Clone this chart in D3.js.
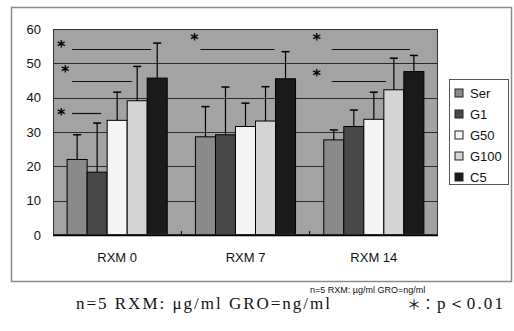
<!DOCTYPE html>
<html>
<head>
<meta charset="utf-8">
<script src="https://d3js.org/d3.v7.min.js"></script>
<style>
  body { margin: 0; background: #fff; }
  svg { display: block; }
</style>
</head>
<body>
<div id="chart"></div>
<script>
// data
var categories = ["RXM 0", "RXM 7", "RXM 14"];
var series = ["Ser", "G1", "G50", "G100", "C5"];
var means = [
  [22.0, 18.3, 33.4, 39.1, 45.7],
  [28.6, 29.2, 31.6, 33.2, 45.5],
  [27.7, 31.6, 33.7, 42.3, 47.6]
];
var errors = [
  [7.2, 14.3, 8.2, 10.0, 10.2],
  [8.8, 13.9, 6.8, 10.0, 7.9],
  [2.9, 4.8, 7.9, 9.2, 4.7]
];
var yTicks = [0, 10, 20, 30, 40, 50, 60];
// significance marks: star / line, x in bar units from the group start
var sigMarks = [
  {cat: 0, starX: -0.3,  starY: 55.4, x0: 0.25, x1: 4.2,  lineY: 54.2},
  {cat: 0, starX: -0.1,  starY: 48.1, x0: 0.25, x1: 3.25, lineY: 45.0},
  {cat: 0, starX: -0.3,  starY: 35.6, x0: 0.25, x1: 1.7,  lineY: 35.4},
  {cat: 1, starX: -0.05, starY: 57.4, x0: 0.25, x1: 3.95, lineY: 54.1},
  {cat: 2, starX: -0.35, starY: 57.4, x0: 0.4,  x1: 4.3,  lineY: 54.1},
  {cat: 2, starX: -0.35, starY: 46.9, x0: 0.4,  x1: 3.1,  lineY: 44.9}
];
var footSmall = "n=5 RXM: \u00b5g/ml GRO=ng/ml";
var footBig = "n=5 RXM: \u03bcg/ml GRO=ng/ml";
var footStar = "\uff0a\uff1a";
var footP = "p\uff1c0.01";

var colors = {Ser: "#8a8a8a", G1: "#484848", G50: "#f4f4f4", G100: "#d4d4d4", C5: "#1a1a1a"};

var W = 514, H = 331;
var plot = {left: 53, right: 438, top: 29, bottom: 235};

var svg = d3.select("#chart").append("svg")
  .attr("width", W).attr("height", H);

// outer frame
svg.append("rect")
  .attr("x", 11.5).attr("y", 7.5).attr("width", 500).attr("height", 274)
  .attr("fill", "#fff").attr("stroke", "#8a8a8a").attr("stroke-width", 1.5);

var x0 = d3.scaleBand().domain(categories)
  .range([plot.left, plot.right]).paddingInner(0.22).paddingOuter(0.11);
var x1 = d3.scaleBand().domain(series).range([0, x0.bandwidth()]);
var y = d3.scaleLinear().domain([0, 60]).range([plot.bottom, plot.top]);

var barUnit = x1.bandwidth();

// plot background
svg.append("rect")
  .attr("x", plot.left).attr("y", plot.top)
  .attr("width", plot.right - plot.left).attr("height", plot.bottom - plot.top)
  .attr("fill", "#a3a3a3");

// grid
svg.append("g").selectAll("line").data(yTicks.slice(1, -1)).join("line")
  .attr("x1", plot.left).attr("x2", plot.right)
  .attr("y1", function(d) { return Math.round(y(d)) + 0.5; })
  .attr("y2", function(d) { return Math.round(y(d)) + 0.5; })
  .attr("stroke", "#2a2a2a").attr("stroke-width", 1);

// significance lines and stars
var sig = svg.append("g");
sig.selectAll("line").data(sigMarks).join("line")
  .attr("x1", function(d) { return x0(categories[d.cat]) + d.x0 * barUnit; })
  .attr("x2", function(d) { return x0(categories[d.cat]) + d.x1 * barUnit; })
  .attr("y1", function(d) { return Math.round(y(d.lineY)) + 0.5; })
  .attr("y2", function(d) { return Math.round(y(d.lineY)) + 0.5; })
  .attr("stroke", "#111").attr("stroke-width", 1.2);
sig.selectAll("text").data(sigMarks).join("text")
  .attr("x", function(d) { return x0(categories[d.cat]) + d.starX * barUnit; })
  .attr("y", function(d) { return y(d.starY) + 7; })
  .attr("text-anchor", "middle")
  .attr("font-family", "DejaVu Sans, sans-serif")
  .attr("font-size", 16).attr("font-weight", "bold")
  .attr("fill", "#000")
  .text("*");

// bars
var groups = svg.append("g").selectAll("g").data(categories).join("g")
  .attr("transform", function(d) { return "translate(" + x0(d) + ",0)"; });

function rows(d, i) {
  return series.map(function(s, j) { return {s: s, v: means[i][j], e: errors[i][j]}; });
}

groups.selectAll("rect")
  .data(rows)
  .join("rect")
  .attr("x", function(d) { return x1(d.s); })
  .attr("y", function(d) { return y(d.v); })
  .attr("width", x1.bandwidth())
  .attr("height", function(d) { return y(0) - y(d.v); })
  .attr("fill", function(d) { return colors[d.s]; })
  .attr("stroke", "#000").attr("stroke-width", 1);

// error bars (upper only)
var err = groups.selectAll("g.err")
  .data(rows)
  .join("g").attr("class", "err");
err.append("line")
  .attr("x1", function(d) { return x1(d.s) + x1.bandwidth() / 2; })
  .attr("x2", function(d) { return x1(d.s) + x1.bandwidth() / 2; })
  .attr("y1", function(d) { return y(d.v); })
  .attr("y2", function(d) { return y(d.v + d.e); })
  .attr("stroke", "#000").attr("stroke-width", 1.2);
err.append("line")
  .attr("x1", function(d) { return x1(d.s) + x1.bandwidth() / 2 - 4; })
  .attr("x2", function(d) { return x1(d.s) + x1.bandwidth() / 2 + 4; })
  .attr("y1", function(d) { return y(d.v + d.e); })
  .attr("y2", function(d) { return y(d.v + d.e); })
  .attr("stroke", "#000").attr("stroke-width", 1.5);

// plot frame
svg.append("rect")
  .attr("x", plot.left + 0.5).attr("y", plot.top + 0.5)
  .attr("width", plot.right - plot.left - 1).attr("height", plot.bottom - plot.top - 1)
  .attr("fill", "none").attr("stroke", "#333").attr("stroke-width", 1);
svg.append("line")
  .attr("x1", plot.left).attr("x2", plot.right)
  .attr("y1", plot.bottom + 0.5).attr("y2", plot.bottom + 0.5)
  .attr("stroke", "#000").attr("stroke-width", 1.5);

// axes
var yAxis = svg.append("g")
  .attr("transform", "translate(" + (plot.left - 12) + ",0)")
  .call(d3.axisLeft(y).tickValues(yTicks).tickSize(0).tickPadding(0));
yAxis.select(".domain").remove();
yAxis.selectAll("text")
  .attr("font-family", "Liberation Sans, Arial, sans-serif")
  .attr("font-size", 13).attr("fill", "#111");

var xAxis = svg.append("g")
  .attr("transform", "translate(0," + plot.bottom + ")")
  .call(d3.axisBottom(x0).tickSize(0).tickPadding(18));
xAxis.select(".domain").remove();
xAxis.selectAll("text")
  .attr("font-family", "Liberation Sans, Arial, sans-serif")
  .attr("font-size", 13).attr("fill", "#111");

// small tick marks between groups
svg.append("g").selectAll("line").data(categories.slice(1)).join("line")
  .attr("x1", function(d) { return x0(d) - x0.step() * x0.paddingInner() / 2; })
  .attr("x2", function(d) { return x0(d) - x0.step() * x0.paddingInner() / 2; })
  .attr("y1", plot.bottom).attr("y2", plot.bottom - 4)
  .attr("stroke", "#000");

// legend
var leg = svg.append("g").attr("transform", "translate(449,79)");
leg.append("rect").attr("x", 0.5).attr("y", 0.5).attr("width", 59).attr("height", 105)
  .attr("fill", "#fff").attr("stroke", "#555").attr("stroke-width", 1);
var li = leg.selectAll("g").data(series).join("g")
  .attr("transform", function(d, i) { return "translate(6," + (14 + i * 21) + ")"; });
li.append("rect").attr("x", 0).attr("y", -4).attr("width", 8).attr("height", 8)
  .attr("fill", function(d) { return colors[d]; })
  .attr("stroke", "#222").attr("stroke-width", 1);
li.append("text").attr("x", 15).attr("y", 5)
  .attr("font-family", "Liberation Sans, Arial, sans-serif")
  .attr("font-size", 13).attr("fill", "#111")
  .text(function(d) { return d; });

// footnotes
svg.append("text").attr("x", 310).attr("y", 293)
  .attr("font-family", "Liberation Sans, Arial, sans-serif")
  .attr("font-size", 9).attr("fill", "#111")
  .text(footSmall);
svg.append("text").attr("x", 76).attr("y", 309)
  .attr("font-family", "Liberation Serif, DejaVu Serif, serif")
  .attr("font-size", 17).attr("fill", "#111")
  .attr("textLength", 254).attr("lengthAdjust", "spacing")
  .text(footBig);
svg.append("text").attr("x", 407).attr("y", 309)
  .attr("font-family", "Noto Sans CJK JP, sans-serif")
  .attr("font-size", 14).attr("fill", "#111")
  .text(footStar);
svg.append("text").attr("x", 437).attr("y", 309)
  .attr("font-family", "Liberation Serif, DejaVu Serif, serif")
  .attr("font-size", 17).attr("fill", "#111")
  .attr("textLength", 66).attr("lengthAdjust", "spacing")
  .text(footP);
</script>
</body>
</html>
